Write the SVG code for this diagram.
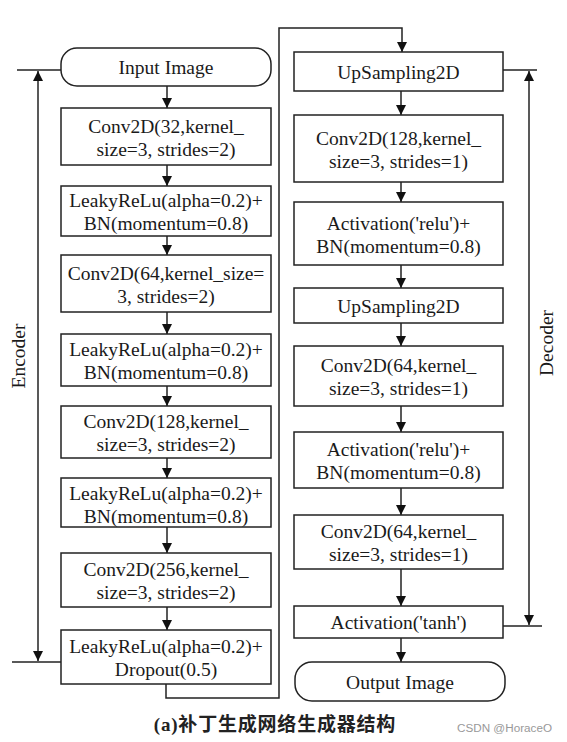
<svg xmlns="http://www.w3.org/2000/svg" width="567" height="742" viewBox="0 0 567 742">
<defs>
<marker id="ah" markerUnits="userSpaceOnUse" markerWidth="10" markerHeight="13" refX="10" refY="5" orient="auto">
<path d="M0,0 L10,5 L0,10 Z" fill="#111"/>
</marker>
<style>
.box{fill:#fff;stroke:#222;stroke-width:1.5}
.t{font-family:"Liberation Serif","Times New Roman",serif;font-size:19.5px;fill:#1a1a1a;text-anchor:middle}
.c{fill:none;stroke:#222;stroke-width:1.5}
.a{fill:none;stroke:#222;stroke-width:1.5;marker-end:url(#ah)}
</style>
</defs>
<rect width="567" height="742" fill="#fff"/>
<g id="connectors">
<line class="a" x1="167" y1="86" x2="167" y2="108"/>
<line class="a" x1="167" y1="165" x2="167" y2="186"/>
<line class="a" x1="167" y1="236" x2="167" y2="255"/>
<line class="a" x1="167" y1="312" x2="167" y2="334"/>
<line class="a" x1="167" y1="386" x2="167" y2="406"/>
<line class="a" x1="167" y1="458" x2="167" y2="478"/>
<line class="a" x1="167" y1="527" x2="167" y2="553"/>
<line class="a" x1="167" y1="607" x2="167" y2="630"/>
<polyline class="a" points="166,684 166,698 279,698 279,28 402,28 402,52"/>
<line class="a" x1="401" y1="91" x2="401" y2="115"/>
<line class="a" x1="401" y1="182" x2="401" y2="202"/>
<line class="a" x1="401" y1="265" x2="401" y2="288"/>
<line class="a" x1="401" y1="323" x2="401" y2="346"/>
<line class="a" x1="401" y1="406" x2="401" y2="432"/>
<line class="a" x1="401" y1="488" x2="401" y2="515"/>
<line class="a" x1="401" y1="569" x2="401" y2="606"/>
<line class="a" x1="401" y1="638" x2="401" y2="662"/>
<line class="c" x1="17" y1="70" x2="61" y2="70"/>
<line class="c" x1="12" y1="662" x2="61" y2="662"/>
<line class="a" x1="38" y1="366" x2="38" y2="71"/>
<line class="a" x1="38" y1="366" x2="38" y2="661"/>
<line class="c" x1="503" y1="70" x2="537" y2="70"/>
<line class="c" x1="503" y1="626" x2="542" y2="626"/>
<line class="a" x1="529" y1="348" x2="529" y2="71"/>
<line class="a" x1="529" y1="348" x2="529" y2="625"/>
</g>
<g id="input"><rect class="box" x="61" y="48" width="210" height="38" rx="16"/><text class="t" x="166" y="74">Input Image</text></g>
<g id="conv1"><rect class="box" x="61" y="108" width="210" height="57"/><text class="t" x="166" y="132.5">Conv2D(32,kernel_</text><text class="t" x="166" y="155.5">size=3, strides=2)</text></g>
<g id="leaky1"><rect class="box" x="61" y="186" width="210" height="50"/><text class="t" x="166" y="207">LeakyReLu(alpha=0.2)+</text><text class="t" x="166" y="230">BN(momentum=0.8)</text></g>
<g id="conv2"><rect class="box" x="61" y="255" width="210" height="57"/><text class="t" x="166" y="279.5">Conv2D(64,kernel_size=</text><text class="t" x="166" y="302.5">3, strides=2)</text></g>
<g id="leaky2"><rect class="box" x="61" y="334" width="210" height="52"/><text class="t" x="166" y="356">LeakyReLu(alpha=0.2)+</text><text class="t" x="166" y="379">BN(momentum=0.8)</text></g>
<g id="conv3"><rect class="box" x="61" y="406" width="210" height="52"/><text class="t" x="166" y="428">Conv2D(128,kernel_</text><text class="t" x="166" y="451">size=3, strides=2)</text></g>
<g id="leaky3"><rect class="box" x="61" y="478" width="210" height="49"/><text class="t" x="166" y="499.5">LeakyReLu(alpha=0.2)+</text><text class="t" x="166" y="522.5">BN(momentum=0.8)</text></g>
<g id="conv4"><rect class="box" x="61" y="553" width="210" height="54"/><text class="t" x="166" y="576">Conv2D(256,kernel_</text><text class="t" x="166" y="599">size=3, strides=2)</text></g>
<g id="leaky4"><rect class="box" x="61" y="630" width="210" height="54"/><text class="t" x="166" y="653">LeakyReLu(alpha=0.2)+</text><text class="t" x="166" y="676">Dropout(0.5)</text></g>
<g id="up1"><rect class="box" x="294" y="52" width="209" height="39"/><text class="t" x="398.5" y="78.5">UpSampling2D</text></g>
<g id="dconv1"><rect class="box" x="294" y="115" width="209" height="67"/><text class="t" x="398.5" y="144.5">Conv2D(128,kernel_</text><text class="t" x="398.5" y="167.5">size=3, strides=1)</text></g>
<g id="act1"><rect class="box" x="294" y="202" width="209" height="63"/><text class="t" x="398.5" y="229.5">Activation('relu')+</text><text class="t" x="398.5" y="252.5">BN(momentum=0.8)</text></g>
<g id="up2"><rect class="box" x="294" y="288" width="209" height="35"/><text class="t" x="398.5" y="312.5">UpSampling2D</text></g>
<g id="dconv2"><rect class="box" x="294" y="346" width="209" height="60"/><text class="t" x="398.5" y="372">Conv2D(64,kernel_</text><text class="t" x="398.5" y="395">size=3, strides=1)</text></g>
<g id="act2"><rect class="box" x="294" y="432" width="209" height="56"/><text class="t" x="398.5" y="456">Activation('relu')+</text><text class="t" x="398.5" y="479">BN(momentum=0.8)</text></g>
<g id="dconv3"><rect class="box" x="294" y="515" width="209" height="54"/><text class="t" x="398.5" y="538">Conv2D(64,kernel_</text><text class="t" x="398.5" y="561">size=3, strides=1)</text></g>
<g id="tanh"><rect class="box" x="294" y="606" width="209" height="32"/><text class="t" x="398.5" y="629">Activation('tanh')</text></g>
<g id="output"><rect class="box" x="295" y="662" width="210" height="39" rx="17"/><text class="t" x="400" y="688.5">Output Image</text></g>
<g id="labels">
<text class="t" transform="translate(25,356) rotate(-90)">Encoder</text>
<text class="t" transform="translate(553,343) rotate(-90)">Decoder</text>
<text x="275" y="731" text-anchor="middle" font-family="'Liberation Serif','Noto Sans CJK SC',serif" font-size="19" font-weight="bold" letter-spacing="0.8" fill="#222">(a)补丁生成网络生成器结构</text>
<text x="457" y="732" font-family="'Liberation Sans',Arial,sans-serif" font-size="11.7" fill="#999">CSDN @HoraceO</text>
</g>
</svg>
